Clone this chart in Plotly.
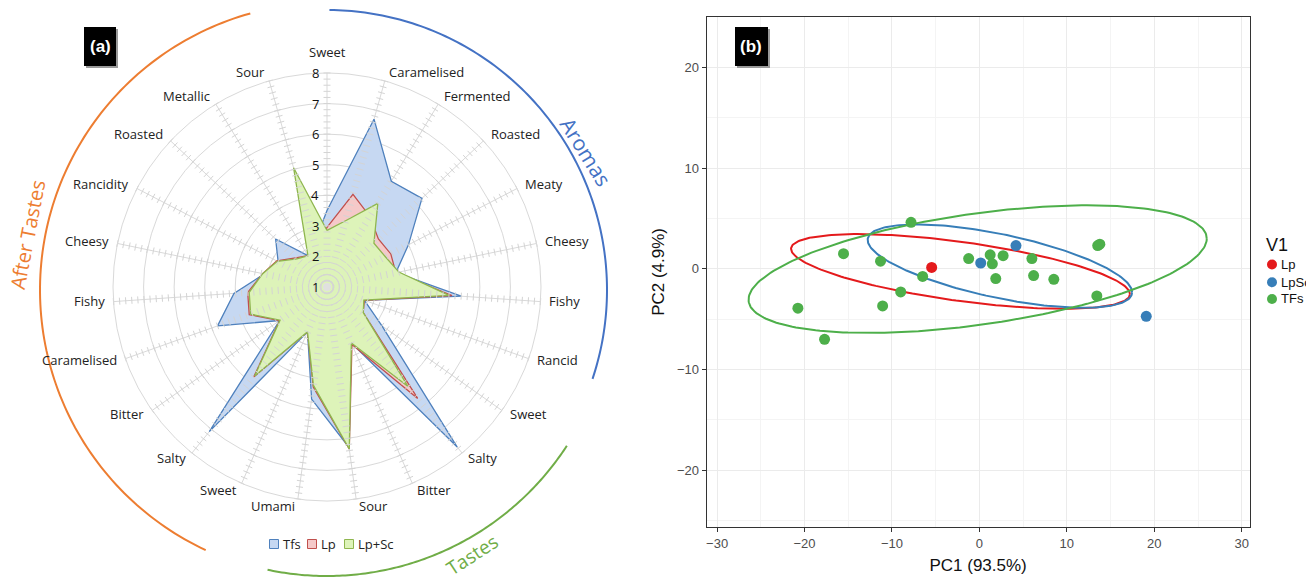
import numpy as np
import plotly.graph_objects as go

W, H = 1314, 580
OX, OY = 8, 8  # page body margin offset of the rendered figure

# ---------------- Radar (a) data ----------------
categories = ["Sweet", "Caramelised", "Fermented", "Roasted", "Meaty", "Cheesy", "Fishy", "Rancid",
              "Sweet", "Salty", "Bitter", "Sour", "Umami", "Sweet", "Salty", "Bitter", "Caramelised",
              "Fishy", "Cheesy", "Rancidity", "Roasted", "Metallic", "Sour"]
tfs = [3.5, 6.7, 5.05, 5.25, 4.0, 3.3, 5.4, 2.3, 3.2, 7.75, 3.0, 6.3, 4.7, 2.6, 7.1, 2.9, 4.8,
       4.05, 3.1, 2.8, 3.3, 2.2, 2.5]
lp = [2.95, 4.15, 3.7, 3.3, 3.35, 3.3, 5.1, 2.3, 2.45, 5.7, 3.05, 6.35, 4.3, 2.6, 4.8, 2.9, 3.7,
      3.6, 3.15, 2.85, 2.4, 2.2, 2.3]
lpsc = [2.85, 3.25, 4.2, 3.1, 3.15, 3.4, 5.0, 2.28, 2.45, 5.2, 3.0, 6.35, 4.25, 2.6, 4.75, 2.88, 3.65,
        3.55, 3.15, 2.83, 2.35, 2.2, 5.05]
radial_ticks = [1, 2, 3, 4, 5, 6, 7, 8]

# ---------------- PCA (b) data ----------------
lp_x = [-5.46]
lp_y = [0.15]
lpsc_x = [0.15, 4.18, 19.08]
lpsc_y = [0.59, 2.32, -4.71]
tfs_x = [-7.82, -15.54, -11.31, -6.49, -9.0, -11.07, -20.76, -17.71, -1.23, 1.23, 1.48, 2.71,
         1.87, 6.0, 6.2, 8.51, 13.53, 13.77, 13.43]
tfs_y = [4.63, 1.51, 0.77, -0.74, -2.28, -3.68, -3.90, -6.99, 1.03, 1.40, 0.51, 1.32,
         -0.96, 1.03, -0.66, -1.03, 2.32, 2.46, -2.68]
# ellipse: centre x, centre y, x half-extent, y half-extent, cos(phase)
ell_lp = [-2.16, -0.25, 19.38, 3.71, -0.606]
ell_lpsc = [2.34, 0.28, 15.12, 4.14, -0.628]
ell_tfs = [-0.2, -0.02, 26.2, 6.34, 0.478]
pc_ticks = [-30, -20, -10, 0, 10, 20, 30]

n = len(categories)
theta = [i * 360.0 / n for i in range(n)]


def closed(v):
    return list(v) + [v[0]]


def PX(x):
    return (x - OX) / W


def PY(y):
    return 1 - (y - OY) / H


fig = go.Figure()

radar_font = "Open Sans"
series = [("Tfs", tfs, "#4f81bd", "#c6d8f2"),
          ("Lp", lp, "#c0504d", "#f5c9c9"),
          ("Lp+Sc", lpsc, "#8fb64f", "#ddf3b9")]
for name, vals, lc, fc in series:
    fig.add_trace(go.Scatterpolar(r=closed(vals), theta=closed(theta), mode="lines", fill="toself",
                                  name=name, line=dict(color=lc, width=1.3), fillcolor=fc,
                                  showlegend=False))

# minor tick marks along spokes
tr, tt, ta = [], [], []
for th in theta:
    for k in range(1, 36):
        rv = radial_ticks[0] + k * 0.2
        if rv > radial_ticks[-1] + 1e-9:
            break
        tr.append(rv); tt.append(th); ta.append(th)
fig.add_trace(go.Scatterpolar(r=tr, theta=tt, mode="markers", showlegend=False, hoverinfo="skip",
                              marker=dict(symbol="line-ew", size=5, angle=ta,
                                          line=dict(color="#d4d4d4", width=1))))
fig.add_trace(go.Scatterpolar(r=[radial_ticks[0]], theta=[0], mode="markers", showlegend=False,
                              hoverinfo="skip", marker=dict(size=8, color="#e0e0e0")))

cx, cy, R = 327, 287, 214
fig.update_layout(polar=dict(
    domain=dict(x=[PX(cx - R), PX(cx + R)], y=[PY(cy + R), PY(cy - R)]),
    bgcolor="white", gridshape="linear",
    angularaxis=dict(rotation=90, direction="clockwise", tickmode="array", tickvals=theta,
                     showticklabels=False, showgrid=True, gridcolor="#d9d9d9", gridwidth=1,
                     showline=True, linecolor="#d9d9d9", ticks="", layer="above traces"),
    radialaxis=dict(range=[radial_ticks[0], radial_ticks[-1]], tickvals=radial_ticks, angle=90,
                    showticklabels=False, showline=False, gridcolor="#d9d9d9", ticks="",
                    layer="above traces")))

# ---------------- PCA traces ----------------
def ellipse(p):
    t = np.linspace(0, 2 * np.pi, 241)
    d = np.arccos(p[4])
    return p[0] + p[2] * np.cos(t), p[1] + p[3] * np.cos(t - d)


groups = [("Lp", lp_x, lp_y, ell_lp, "#e41a1c"),
          ("LpSc", lpsc_x, lpsc_y, ell_lpsc, "#377eb8"),
          ("TFs", tfs_x, tfs_y, ell_tfs, "#4daf4a")]
for name, xs, ys, ep, col in groups:
    ex, ey = ellipse(ep)
    fig.add_trace(go.Scatter(x=ex, y=ey, mode="lines", line=dict(color=col, width=2),
                             showlegend=False, hoverinfo="skip", xaxis="x", yaxis="y"))
for name, xs, ys, ep, col in groups:
    fig.add_trace(go.Scatter(x=xs, y=ys, mode="markers", name=name, showlegend=False,
                             marker=dict(color=col, size=11), xaxis="x", yaxis="y"))

axfont = dict(size=13, color="#4d4d4d", family="Liberation Sans")
fig.update_layout(
    xaxis=dict(domain=[PX(706.6), PX(1249.6)], range=[-31.2, 30.9], tickvals=pc_ticks,
               showgrid=True, gridcolor="#ebebeb", zeroline=False, showline=True, mirror=True,
               linecolor="#333", linewidth=1, ticks="outside", ticklen=4, tickcolor="#333",
               tickfont=axfont,
               minor=dict(dtick=5, tick0=0, showgrid=True, gridcolor="#f4f4f4", ticks=""),
               title=dict(text="PC1 (93.5%)", font=dict(size=17, color="#111", family="Liberation Sans"),
                          standoff=9)),
    yaxis=dict(domain=[PY(527.2), PY(16.6)], range=[-25.66, 25.07],
               tickvals=pc_ticks[1:-1], showgrid=True, gridcolor="#ebebeb", zeroline=False,
               showline=True, mirror=True, linecolor="#333", linewidth=1, ticks="outside",
               ticklen=4, tickcolor="#333", tickfont=axfont,
               minor=dict(dtick=5, tick0=0, showgrid=True, gridcolor="#f4f4f4", ticks=""),
               title=dict(text="PC2 (4.9%)", font=dict(size=17, color="#111", family="Liberation Sans"),
                          standoff=7)),
    plot_bgcolor="white", paper_bgcolor="white", showlegend=False,
    width=W, height=H, margin=dict(l=0, r=0, t=0, b=0, autoexpand=False),
)

# ---------------- decorations: arcs, labels ----------------
def arc_path(acx, acy, r, a0, a1):
    a = np.radians(np.linspace(a0, a1, 120))
    px = acx + r * np.sin(a)
    py = acy - r * np.cos(a)
    pts = [f"{PX(x):.5f},{PY(y):.5f}" for x, y in zip(px, py)]
    return "M " + " L ".join(pts)


shapes = [
    dict(type="path", path=arc_path(327, 290, 280, 0.5, 108.5), xref="paper", yref="paper",
         line=dict(color="#4472c4", width=2)),
    dict(type="path", path=arc_path(327, 290, 286, 123, 192), xref="paper", yref="paper",
         line=dict(color="#70ad47", width=2)),
    dict(type="path", path=arc_path(327, 290, 287, 205, 344.5), xref="paper", yref="paper",
         line=dict(color="#ed7d31", width=2)),
]
for (x0, y0, x1, y1) in [(84, 27, 116, 66), (735, 27, 768, 66)]:
    shapes.append(dict(type="rect", xref="paper", yref="paper", x0=PX(x0 + 2), x1=PX(x1 + 2),
                       y0=PY(y1 + 2), y1=PY(y0 + 2), fillcolor="#9a9a9a",
                       line=dict(width=0), layer="above"))
    shapes.append(dict(type="rect", xref="paper", yref="paper", x0=PX(x0), x1=PX(x1),
                       y0=PY(y1), y1=PY(y0), fillcolor="black", line=dict(width=0),
                       layer="above"))

ann = []
# category labels around the radar
for th, lab in zip(theta, categories):
    s, c = np.sin(np.radians(th)), np.cos(np.radians(th))
    lx, ly = cx + 221 * s, 286 - 222 * c
    if abs(s) < 0.01:
        xa, ya = "center", "bottom"
        ly -= 1
    else:
        xa, ya = ("left" if s > 0 else "right"), "middle"
    ann.append(dict(text=lab, x=PX(lx), y=PY(ly), xanchor=xa, yanchor=ya,
                    font=dict(size=13, color="#222", family=radar_font)))
# radial value labels
for v in radial_ticks:
    ly = cy - (v - radial_ticks[0]) * R / (radial_ticks[-1] - radial_ticks[0])
    ann.append(dict(text=str(v), x=PX(321), y=PY(ly), xanchor="right", yanchor="middle",
                    font=dict(size=13, color="#111", family=radar_font)))

# radar legend (squares + labels)
leg_items = [("Tfs", 274, "#4f81bd", "#c6d8f2"), ("Lp", 312, "#c0504d", "#f5c9c9"),
             ("Lp+Sc", 349, "#8fb64f", "#ddf3b9")]
for name, sx, lc, fc in leg_items:
    shapes.append(dict(type="rect", xref="paper", yref="paper", x0=PX(sx - 4.5), x1=PX(sx + 4.5),
                       y0=PY(548.5), y1=PY(539.5), fillcolor=fc, line=dict(color=lc, width=1)))
    ann.append(dict(text=name, x=PX(sx + 7), y=PY(544), xanchor="left", yanchor="middle",
                    font=dict(size=13, color="#222", family=radar_font)))

# PCA legend (V1)
ann.append(dict(text="V1", x=PX(1264), y=PY(245), xanchor="left", yanchor="middle",
                font=dict(size=18, color="#111", family="Liberation Sans")))
for (name, xs, ys, ep, col), ly in zip(groups, [264.5, 282.3, 299.0]):
    shapes.append(dict(type="circle", xref="paper", yref="paper", x0=PX(1267), x1=PX(1277),
                       y0=PY(ly + 5), y1=PY(ly - 5), fillcolor=col, line=dict(width=0)))
    ann.append(dict(text=name, x=PX(1279), y=PY(ly), xanchor="left", yanchor="middle",
                    font=dict(size=13, color="#111", family="Liberation Sans")))

ann += [
    dict(text="Aromas", x=PX(586), y=PY(152), textangle=58, xanchor="center", yanchor="middle",
         font=dict(size=21, color="#4472c4", family=radar_font)),
    dict(text="After Tastes", x=PX(28), y=PY(235), textangle=-79, xanchor="center", yanchor="middle",
         font=dict(size=20, color="#ed7d31", family=radar_font)),
    dict(text="Tastes", x=PX(472), y=PY(555), textangle=-33, xanchor="center", yanchor="middle",
         font=dict(size=19, color="#70ad47", family=radar_font)),
    dict(text="<b>(a)</b>", x=PX(100), y=PY(46), xanchor="center", yanchor="middle",
         font=dict(size=17, color="white", family="Liberation Sans")),
    dict(text="<b>(b)</b>", x=PX(751.5), y=PY(46), xanchor="center", yanchor="middle",
         font=dict(size=17, color="white", family="Liberation Sans")),
]
for a in ann:
    a.update(xref="paper", yref="paper", showarrow=False)
fig.update_layout(shapes=shapes, annotations=ann)

fig.write_html("out.html")
